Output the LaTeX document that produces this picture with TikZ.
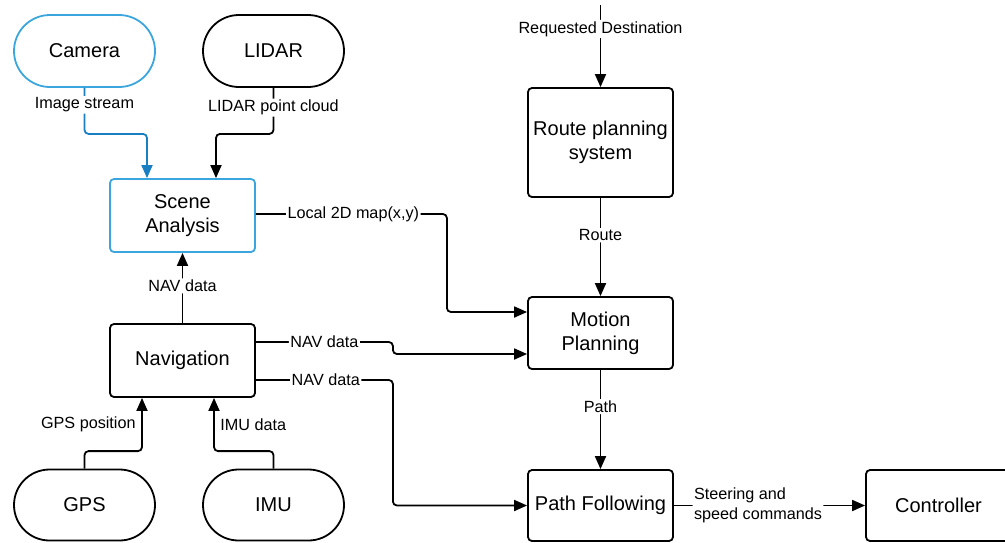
\documentclass[tikz,border=0pt]{standalone}
\usepackage{fontspec}
\setmainfont{Liberation Sans}
\usetikzlibrary{arrows.meta,shapes.misc,calc}
\definecolor{skyline}{HTML}{3AA6DD}
\definecolor{camflow}{HTML}{1A7FC2}
\tikzset{
  base/.style={draw, line width=1.8pt, font=\fontsize{20}{24}\selectfont, align=center, inner sep=2pt, minimum width=145pt},
  sensor/.style={base, rounded rectangle, minimum height=72pt},
  block/.style={base, rectangle, rounded corners=4pt, minimum height=72pt},
  flow/.style={line width=1.8pt, rounded corners=4pt, -{Triangle[length=13pt,width=11pt]}},
  lbl/.style={fill=white, inner sep=1.5pt, font=\fontsize{16.2}{20}\selectfont, text=black},
}
\begin{document}
\begin{tikzpicture}[x=1pt, y=-1pt]
\useasboundingbox (0,0) rectangle (1005,542);
\clip (0,0) rectangle (1005,542);

% sensors and processing blocks
\node[sensor, draw=skyline] (cam) at (84.5,51) {Camera};
\node[sensor] (lidar) at (273.5,51) {LIDAR};
\node[block, draw=skyline, minimum height=73pt] (scene) at (182.5,215.5) {Scene\\Analysis};
\node[block, minimum height=73pt] (nav) at (182.5,360.5) {Navigation};
\node[sensor, minimum height=71pt] (gps) at (84.5,505) {GPS};
\node[sensor, minimum height=71pt] (imu) at (273.5,505) {IMU};
\node[block, minimum height=109pt] (route) at (600.5,142.5) {Route planning\\system};
\node[block] (motion) at (600.5,333) {Motion\\Planning};
\node[block, minimum height=71pt] (pathf) at (600.5,505.5) {Path Following};
\node[block, minimum height=71pt] (ctrl) at (938.5,505.5) {Controller};
\coordinate (dest) at (600.5,5);

% perception inputs
\draw[flow, draw=camflow] (cam.south) -- node[lbl, pos=0.37]{Image stream} ++(0,46) -| ($(scene.north)+(-35.5,0)$);
\draw[flow] (lidar.south) -- node[lbl, pos=0.43]{LIDAR point cloud} ++(0,46) -| ($(scene.north)+(33.5,0)$);
\draw[flow] (nav.north) -- node[lbl, pos=0.53]{NAV data} (scene.south);

% navigation inputs
\draw[flow] (gps.north) -- ++(0,-17.5) -| node[lbl, pos=0.75, anchor=east, xshift=-4pt]{GPS position} ($(nav.south)+(-40.5,0)$);
\draw[flow] (imu.north) -- ++(0,-17.5) -| node[lbl, pos=0.75, anchor=west, xshift=4pt]{IMU data} ($(nav.south)+(31.5,0)$);

% planning chain
\draw[flow] (dest) -- node[lbl, pos=0.29]{Requested Destination} (route.north);
\draw[flow] (route.south) -- node[lbl, pos=0.38]{Route} (motion.north);
\draw[flow] (motion.south) -- node[lbl, pos=0.37]{Path} (pathf.north);
\draw[flow] (pathf.east) -- node[lbl, align=left, pos=0.44]{Steering and\\speed commands} (ctrl.west);

% data into motion planning and path following
\draw[flow] ($(scene.east)+(0,-1.5)$) -- node[lbl, pos=0.51]{Local 2D map(x,y)} ++(191,0) |- ($(motion.west)+(0,-21)$);
\draw[flow] ($(nav.east)+(0,-18.5)$) -- node[lbl, pos=0.5]{NAV data} ++(137,0) |- ($(motion.west)+(0,21)$);
\draw[flow] ($(nav.east)+(0,19.5)$) -- node[lbl, pos=0.51]{NAV data} ++(137,0) |- (pathf.west);
\end{tikzpicture}
\end{document}
